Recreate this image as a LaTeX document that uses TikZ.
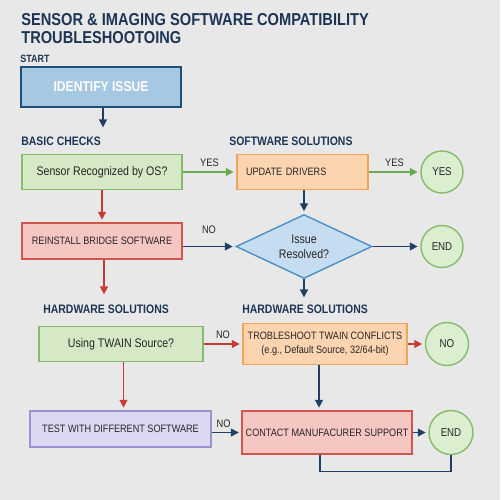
\documentclass[tikz,border=0pt]{standalone}
\usepackage{fontspec}
\setmainfont{Liberation Sans}[FakeStretch=0.85]
\usetikzlibrary{shapes.geometric, arrows.meta}

\definecolor{bgcolor}{HTML}{E8E8E8}
\definecolor{navytext}{HTML}{1C3554}
\definecolor{darktext}{HTML}{262626}
\definecolor{startfill}{HTML}{A6C8E2}
\definecolor{startline}{HTML}{1F4E79}
\definecolor{greenfill}{HTML}{D6E9C6}
\definecolor{greenline}{HTML}{86BB6C}
\definecolor{circlefill}{HTML}{DCEED0}
\definecolor{redfill}{HTML}{F6C6C2}
\definecolor{redline}{HTML}{D2544E}
\definecolor{orangefill}{HTML}{FCD4B0}
\definecolor{orangeline}{HTML}{F0A458}
\definecolor{bluefill}{HTML}{C6DDF1}
\definecolor{blueline}{HTML}{4D8FC6}
\definecolor{lilacfill}{HTML}{DCD8F2}
\definecolor{lilacline}{HTML}{9A93D3}
\definecolor{navyline}{HTML}{1F3F66}
\definecolor{redarrow}{HTML}{C73B35}
\definecolor{greenarrow}{HTML}{6AAA50}

\tikzset{
    heading/.style={anchor=west, inner sep=0pt, text=navytext, font=\bfseries\fontsize{7}{8}\selectfont},
    box/.style={rectangle, draw, line width=0.8pt, inner sep=2pt, align=center, text=darktext, font=\fontsize{6.1}{7.6}\selectfont},
    askbox/.style={box, draw=greenline, fill=greenfill, font=\fontsize{7.1}{8.5}\selectfont},
    fixbox/.style={box, draw=redline, fill=redfill},
    swbox/.style={box, draw=orangeline, fill=orangefill},
    endcircle/.style={circle, draw=greenline, fill=circlefill, line width=0.8pt, minimum size=0.84cm, inner sep=0pt, text=darktext, font=\fontsize{6.5}{7}\selectfont},
    flow/.style={-{Triangle[length=4.5pt,width=4.5pt]}, line width=0.85pt, shorten >=1.5pt},
    navyflow/.style={flow, draw=navyline},
    redflow/.style={flow, draw=redarrow},
    greenflow/.style={flow, draw=greenarrow},
    edgelabel/.style={above=2.5pt, inner sep=0pt, text=darktext, font=\fontsize{6.2}{7}\selectfont}
}

\begin{document}
\begin{tikzpicture}[x=0.02cm, y=-0.02cm]
    \fill[bgcolor] (0,0) rectangle (500,500);
    \useasboundingbox (0,0) rectangle (500,500);

    \node[
    anchor = north west,
    inner sep = 0pt,
    align = left,
    text = navytext,
    font = \bfseries\fontsize{9.8}{10.2}\selectfont
    ] (title) at (21,13) {SENSOR \& IMAGING SOFTWARE COMPATIBILITY\\TROUBLESHOOTOING};

    \node[heading, font=\bfseries\fontsize{6}{7}\selectfont] (start) at (20,59) {START};
    \node[
    box,
    draw = startline,
    fill = startfill,
    line width = 1pt,
    text = white,
    font = \bfseries\fontsize{8.1}{9}\selectfont,
    minimum width = 3.2cm,
    minimum height = 0.8cm
    ] (identify) at (101,87) {IDENTIFY ISSUE};
    \coordinate (a1) at (103,130);

    \node[heading] (basic) at (21,141) {BASIC CHECKS};
    \node[heading] (software) at (229,141) {SOFTWARE SOLUTIONS};

    \node[askbox, minimum width=3.2cm, minimum height=0.7cm] (sensor) at (102,172) {Sensor Recognized by OS?};
    \node[fixbox, minimum width=3.2cm, minimum height=0.72cm] (reinstall) at (102,241) {REINSTALL BRIDGE SOFTWARE};
    \coordinate (r1) at (104,297);

    \node[
    swbox,
    align = left,
    inner xsep = 0.18cm,
    text width = 2.26cm,
    minimum height = 0.7cm
    ] (update) at (302.5,172) {UPDATE DRIVERS};
    \node[endcircle] (yes) at (442,172) {YES};

    \node[
    diamond,
    draw = blueline,
    fill = bluefill,
    line width = 0.8pt,
    aspect = 2.1,
    inner sep = 0pt,
    minimum width = 2.72cm,
    minimum height = 1.28cm,
    align = center,
    text = darktext,
    font = \fontsize{7.1}{8.6}\selectfont
    ] (resolved) at (304,246.5) {Issue\\Resolved?};
    \node[endcircle] (end1) at (442,246.5) {END};
    \coordinate (d1) at (304,300);

    \node[heading] (hardleft) at (43,309) {HARDWARE SOLUTIONS};
    \node[heading] (hardright) at (242,309) {HARDWARE SOLUTIONS};

    \node[askbox, minimum width=3.28cm, minimum height=0.7cm] (twain) at (121,344) {Using TWAIN Source?};
    \node[swbox, minimum width=3.28cm, minimum height=0.82cm] (conflicts) at (325,344) {TROBLESHOOT TWAIN CONFLICTS\\(e.g., Default Source, 32/64-bit)};
    \node[endcircle, minimum size=0.86cm] (no) at (447,344) {NO};

    \node[box, draw=lilacline, fill=lilacfill, minimum width=3.62cm, minimum height=0.72cm] (test) at (120.5,429) {TEST WITH DIFFERENT SOFTWARE};
    \node[fixbox, minimum width=3.36cm, minimum height=0.86cm] (contact) at (327,432.5) {CONTACT MANUFACURER SUPPORT};
    \node[endcircle, minimum size=0.88cm] (end2) at (451,432.5) {END};

    \draw[navyflow] (identify.south -| a1) to (a1);
    \draw[greenflow] (sensor.east) to node[edgelabel] (l1) {YES} (update.west);
    \draw[redflow] (sensor.south) to (reinstall.north);
    \draw[navyflow] (reinstall.east |- resolved.west) to node[edgelabel, above=4.5pt] (l2) {NO} (resolved.west);
    \draw[redflow] (reinstall.south -| r1) to (r1);
    \draw[greenflow] (update.east) to node[edgelabel] (l3) {YES} (yes.west);
    \draw[navyflow] (resolved.north |- update.south) to (resolved.north);
    \draw[navyflow] (resolved.east) to (end1.west);
    \draw[navyflow] (resolved.south) to (d1);
    \draw[redflow] (twain.east) to node[edgelabel] (l4) {NO} (conflicts.west);
    \draw[redflow] ([xshift=0.05cm]twain.south) to ([xshift=0.05cm]twain.south |- test.north);
    \draw[navyflow] (test.east |- contact.west) to node[edgelabel, pos=0.4] (l5) {NO} (contact.west);
    \draw[redflow] (conflicts.east) to (no.west);
    \draw[navyflow] ([xshift=-0.12cm]conflicts.south) to ([xshift=-0.12cm]conflicts.south |- contact.north);
    \draw[navyflow] (contact.east) to (end2.west);
    \draw[navyline, line width=0.85pt] ([xshift=-0.14cm]contact.south) -- ++(0,17) -| (end2.south);
  \end{tikzpicture}
\end{document}
